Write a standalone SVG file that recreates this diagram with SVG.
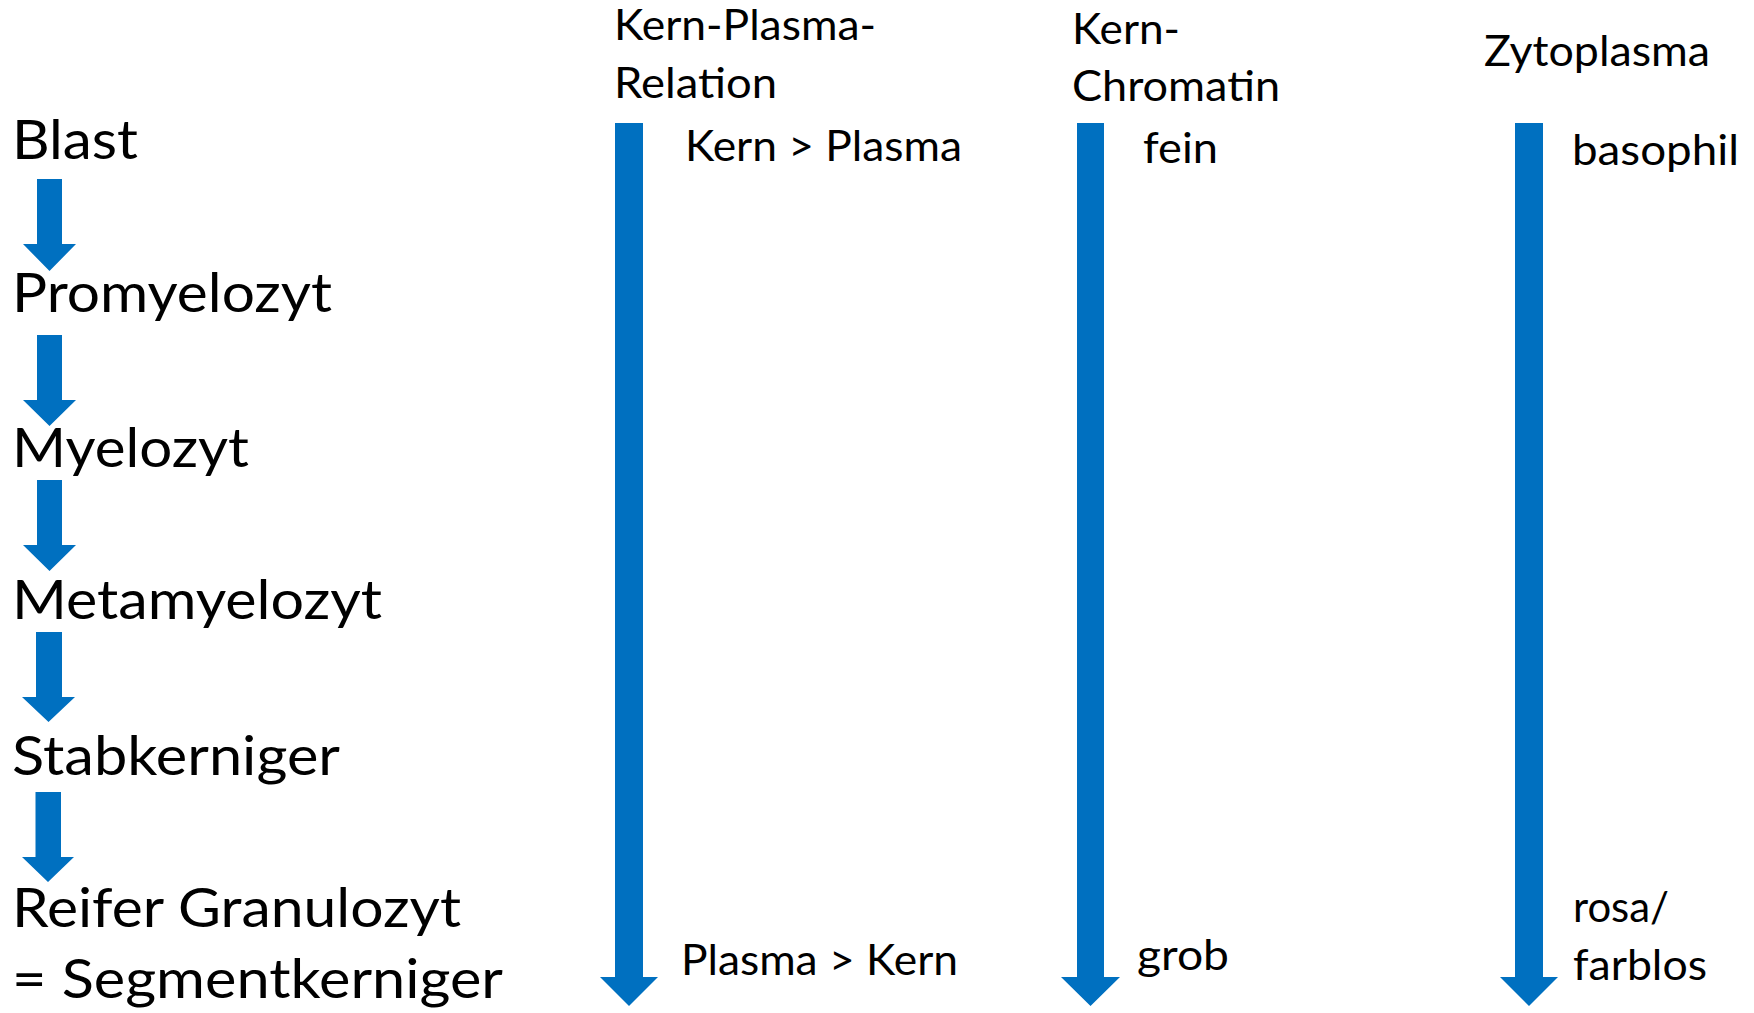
<svg xmlns="http://www.w3.org/2000/svg" width="1754" height="1013" viewBox="0 0 1754 1013">
  <style>
    .arrow { fill: #0070C0; }
    text { font-family: Lato, "Open Sans", "Noto Sans", sans-serif; fill: #000; }
    .stage { font-size: 55px; }
    .hdr { font-size: 42px; }
  </style>
  <rect width="1754" height="1013" fill="#ffffff"/>

  <!-- maturation stages -->
  <g id="stage-blast"><text class="stage" x="12" y="159" textLength="126" lengthAdjust="spacingAndGlyphs">Blast</text></g>
  <g id="stage-promyelozyt"><text class="stage" x="12" y="312" textLength="320" lengthAdjust="spacingAndGlyphs">Promyelozyt</text></g>
  <g id="stage-myelozyt"><text class="stage" x="12" y="467" textLength="237" lengthAdjust="spacingAndGlyphs">Myelozyt</text></g>
  <g id="stage-metamyelozyt"><text class="stage" x="12" y="619" textLength="370" lengthAdjust="spacingAndGlyphs">Metamyelozyt</text></g>
  <g id="stage-stabkerniger"><text class="stage" x="12" y="775" textLength="328" lengthAdjust="spacingAndGlyphs">Stabkerniger</text></g>
  <g id="stage-segmentkerniger">
    <text class="stage" x="12" y="927" textLength="449" lengthAdjust="spacingAndGlyphs">Reifer Granulozyt</text>
    <text class="stage" x="12" y="998" textLength="491" lengthAdjust="spacingAndGlyphs">= Segmentkerniger</text>
  </g>

  <!-- arrows between stages -->
  <g id="connectors" class="arrow">
    <path d="M37,179 H62 V244 H76 L49.5,271 L23,244 H37 Z"/>
    <path d="M37,335 H62 V400 H76 L49.5,426 L23,400 H37 Z"/>
    <path d="M37,480 H62 V545 H76 L49.5,571 L23,545 H37 Z"/>
    <path d="M36,632 H62 V697 H75 L48.5,722 L22,697 H36 Z"/>
    <path d="M35.5,792 H61 V857 H74 L48,882 L22,857 H35.5 Z"/>
  </g>

  <!-- column: nucleus/plasma ratio -->
  <g id="col-kern-plasma-relation">
    <text class="hdr" x="614" y="40" textLength="262" lengthAdjust="spacingAndGlyphs">Kern-Plasma-</text>
    <text class="hdr" x="614" y="98" textLength="163" lengthAdjust="spacingAndGlyphs">Relation</text>
    <path class="arrow" d="M615,123 H643 V977 H658 L629,1006 L600,977 H615 Z"/>
    <text class="hdr" x="685" y="161" textLength="277" lengthAdjust="spacingAndGlyphs">Kern &gt; Plasma</text>
    <text class="hdr" x="681" y="975" textLength="277" lengthAdjust="spacingAndGlyphs">Plasma &gt; Kern</text>
  </g>

  <!-- column: nuclear chromatin -->
  <g id="col-kern-chromatin">
    <text class="hdr" x="1072" y="44" textLength="108" lengthAdjust="spacingAndGlyphs">Kern-</text>
    <text class="hdr" x="1072" y="101" textLength="208" lengthAdjust="spacingAndGlyphs">Chromatin</text>
    <path class="arrow" d="M1077,123 H1104 V977 H1120 L1090.5,1006 L1061,977 H1077 Z"/>
    <text class="hdr" x="1143" y="163" textLength="75" lengthAdjust="spacingAndGlyphs">fein</text>
    <text class="hdr" x="1137" y="970" textLength="92" lengthAdjust="spacingAndGlyphs">grob</text>
  </g>

  <!-- column: cytoplasm -->
  <g id="col-zytoplasma">
    <text class="hdr" x="1484" y="66" textLength="226" lengthAdjust="spacingAndGlyphs">Zytoplasma</text>
    <path class="arrow" d="M1515,123 H1543 V977 H1558 L1529,1006 L1500,977 H1515 Z"/>
    <text class="hdr" x="1572" y="165" textLength="167" lengthAdjust="spacingAndGlyphs">basophil</text>
    <text class="hdr" x="1573" y="922" textLength="96" lengthAdjust="spacingAndGlyphs">rosa/</text>
    <text class="hdr" x="1573" y="980" textLength="134" lengthAdjust="spacingAndGlyphs">farblos</text>
  </g>
</svg>
